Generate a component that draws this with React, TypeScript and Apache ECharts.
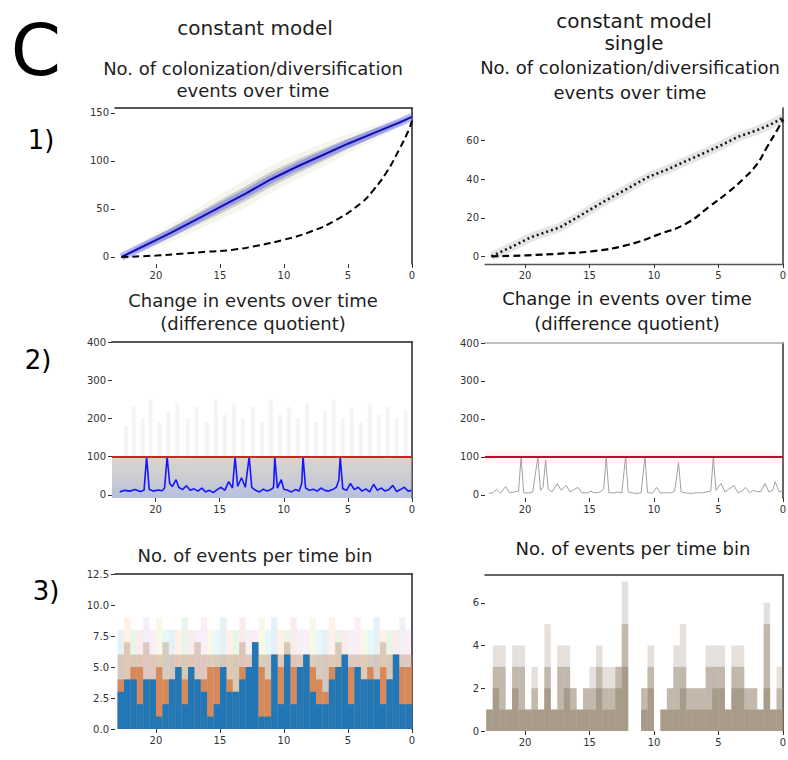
import React, { useEffect, useRef } from "react";
import * as echarts from "echarts";

const FONT = "DejaVu Sans";
const X_TICKS = [0, 5, 10, 15, 20];

// ---------- Row 1: cumulative number of events ----------
const p1Times = [22.7, 21, 19, 17, 15, 13, 11, 9, 7, 5, 3, 1, 0];
const p1Mean = [0, 11, 24, 38, 52, 66, 81, 94, 106, 118, 129, 140, 146];
const p1Spread = [1, 5, 8, 10, 12, 13, 13, 12, 11, 9, 7, 4, 2];
const p1ExpTimes = [22.7, 20, 18, 16, 14, 12, 10, 8, 6, 4, 3, 2, 1, 0.3, 0];
const p1Expected = [0, 1.5, 3.5, 5.5, 7.5, 12, 18, 26, 38, 56, 70, 88, 112, 131, 142];

const p1rTimes = [22.6, 21, 19.5, 17.3, 15.5, 14, 12.1, 10.5, 9, 7, 5, 3.5, 1.8, 0.8, 0];
const p1rSingle = [0, 5, 10, 15, 22, 28, 35, 41, 45, 51, 57, 62, 66, 69, 72];
const p1rExpTimes = [22.6, 19.9, 17, 14.7, 12, 9.5, 7.5, 5.7, 4.3, 3.1, 2, 1.3, 0.5, 0];
const p1rExpected = [0, 0.5, 1.5, 2.7, 6, 11.7, 17, 25.8, 33, 40, 48, 56, 65, 71];

// ---------- Row 2: difference quotient ----------
const p2Threshold = 100;
const p2BandPairs = [[23.4, 96], [22, 97], [20, 98], [18, 96], [16, 97], [14, 98], [12, 97], [10, 98], [8, 96], [6, 97], [4, 98], [2, 96], [0, 97]];
const p2GhostSpikes = [[22.3, 180], [21.7, 230], [21.0, 200], [20.4, 250], [19.7, 190], [19.0, 220], [18.3, 240], [17.5, 200], [16.8, 230], [16.0, 190], [15.3, 250], [14.6, 210], [13.9, 240], [13.2, 200], [12.4, 230], [11.7, 190], [11.0, 250], [10.3, 210], [9.6, 230], [8.9, 200], [8.2, 240], [7.5, 190], [6.8, 220], [6.1, 250], [5.4, 200], [4.7, 230], [4.0, 190], [3.3, 240], [2.6, 210], [1.9, 230], [1.2, 200], [0.5, 220]];
const p2BluePairs = [[22.8, 8], [22.4, 12], [22.0, 10], [21.6, 14], [21.2, 9], [20.9, 12], [20.7, 100], [20.5, 15], [20.2, 10], [19.8, 13], [19.5, 11], [19.3, 18], [19.1, 100], [18.9, 30], [18.7, 22], [18.4, 40], [18.2, 20], [17.9, 14], [17.6, 24], [17.3, 12], [17.0, 16], [16.7, 10], [16.4, 18], [16.1, 8], [15.8, 12], [15.5, 6], [15.2, 14], [14.9, 20], [14.6, 12], [14.3, 35], [14.0, 18], [13.8, 100], [13.6, 22], [13.3, 45], [13.0, 20], [12.7, 100], [12.5, 20], [12.2, 12], [11.9, 8], [11.6, 15], [11.3, 10], [11.0, 14], [10.8, 20], [10.7, 100], [10.5, 18], [10.2, 40], [10.0, 15], [9.7, 12], [9.4, 8], [9.1, 14], [8.8, 10], [8.6, 30], [8.5, 100], [8.3, 18], [8.0, 12], [7.7, 15], [7.4, 10], [7.1, 18], [6.8, 12], [6.5, 10], [6.2, 14], [5.9, 20], [5.7, 40], [5.6, 100], [5.4, 16], [5.1, 12], [4.8, 30], [4.5, 14], [4.2, 20], [3.9, 10], [3.6, 16], [3.3, 8], [3.0, 28], [2.7, 12], [2.4, 18], [2.1, 10], [1.8, 14], [1.5, 25], [1.2, 9], [0.9, 14], [0.6, 20], [0.3, 10], [0.05, 12]];
const p2rGrayPairs = [[22.8, 4], [22.5, 6], [22.2, 15], [21.9, 5], [21.5, 22], [21.2, 6], [20.8, 8], [20.5, 10], [20.3, 100], [20.1, 6], [19.7, 5], [19.4, 8], [19.0, 100], [18.8, 12], [18.6, 20], [18.4, 92], [18.2, 15], [17.9, 8], [17.5, 30], [17.2, 12], [16.8, 25], [16.5, 8], [16.2, 14], [15.9, 20], [15.6, 6], [15.2, 5], [14.9, 10], [14.6, 5], [14.2, 8], [13.9, 15], [13.7, 100], [13.5, 6], [13.1, 5], [12.8, 8], [12.5, 5], [12.2, 100], [12.0, 8], [11.6, 5], [11.3, 4], [11.0, 6], [10.7, 100], [10.5, 6], [10.1, 5], [9.8, 20], [9.5, 5], [9.1, 6], [8.7, 5], [8.4, 10], [8.1, 85], [7.9, 8], [7.5, 5], [7.1, 4], [6.7, 6], [6.3, 5], [5.9, 8], [5.6, 10], [5.4, 100], [5.2, 12], [4.8, 30], [4.5, 8], [4.2, 15], [3.8, 25], [3.5, 6], [3.2, 10], [2.9, 20], [2.6, 6], [2.3, 12], [2.0, 8], [1.7, 10], [1.4, 30], [1.1, 8], [0.8, 12], [0.6, 35], [0.3, 8], [0.05, 10]];

// ---------- Row 3: events per time bin ----------
const binWidth = 0.5;
const binStarts = [23, 22.5, 22, 21.5, 21, 20.5, 20, 19.5, 19, 18.5, 18, 17.5, 17, 16.5, 16, 15.5, 15, 14.5, 14, 13.5, 13, 12.5, 12, 11.5, 11, 10.5, 10, 9.5, 9, 8.5, 8, 7.5, 7, 6.5, 6, 5.5, 5, 4.5, 4, 3.5, 3, 2.5, 2, 1.5, 1, 0.5];
const p3Blue = [3, 4, 4, 2, 4, 4, 1, 2, 4, 5, 2, 5, 4, 3, 1, 2, 5, 3, 3, 4, 5, 7, 1, 1, 6, 2, 6, 2, 5, 6, 3, 2, 2, 4, 5, 6, 2, 5, 4, 4, 4, 2, 4, 6, 2, 2];
const p3Orange = [4, 4, 5, 5, 4, 4, 5, 4, 4, 5, 4, 5, 4, 4, 5, 5, 5, 4, 3, 5, 5, 7, 5, 4, 6, 5, 6, 5, 5, 6, 5, 4, 3, 5, 5, 6, 5, 5, 4, 5, 4, 5, 4, 6, 5, 5];
const p3Band = [6, 7, 6, 6, 7, 6, 6, 7, 6, 6, 6, 6, 7, 6, 6, 6, 6, 6, 6, 7, 6, 7, 6, 6, 6, 6, 7, 6, 6, 6, 6, 6, 6, 6, 7, 6, 6, 6, 6, 6, 6, 7, 6, 6, 6, 6];
const p3Faint = [8, 9, 8, 8, 9, 8, 9, 8, 8, 8, 9, 8, 8, 9, 8, 8, 9, 8, 8, 9, 8, 8, 9, 8, 9, 8, 8, 9, 8, 8, 9, 8, 8, 9, 8, 8, 8, 9, 8, 8, 9, 8, 8, 8, 9, 8];
const p3rLow = [1, 2, 1, 1, 2, 1, 1, 1, 1, 2, 1, 1, 2, 1, 1, 1, 1, 2, 1, 1, 2, 3, 0, 0, 1, 2, 0, 1, 1, 1, 2, 1, 1, 1, 1, 2, 2, 1, 2, 2, 1, 1, 1, 2, 1, 1];
const p3rMid = [1, 3, 3, 1, 3, 3, 1, 2, 1, 3, 1, 3, 3, 2, 1, 2, 2, 3, 2, 2, 3, 5, 0, 0, 2, 3, 0, 1, 2, 3, 3, 2, 2, 2, 3, 3, 3, 1, 3, 3, 2, 2, 1, 5, 1, 2];
const p3rTop = [1, 4, 4, 1, 4, 4, 1, 3, 1, 5, 1, 4, 4, 2, 1, 2, 3, 4, 3, 3, 3, 7, 0, 0, 2, 4, 0, 1, 2, 4, 5, 2, 2, 2, 4, 4, 4, 1, 4, 4, 2, 2, 1, 6, 1, 3];
const pastel = ["rgba(31,119,180,0.11)", "rgba(255,127,14,0.11)", "rgba(44,160,44,0.10)", "rgba(214,39,40,0.09)", "rgba(148,103,189,0.10)", "rgba(227,119,194,0.12)", "rgba(188,189,34,0.11)", "rgba(23,190,207,0.10)"];

const zip = (a: number[], b: number[]) => a.map((v, i) => [v, b[i]]);

type Spines = { top?: string; right?: string; bottom?: string };

function axesFor(p: number, xMax: number, yMin: number, yMax: number, yTicks: number[], sp: Spines, yFmt?: (v: number) => string) {
  const xa = [
    {
      type: "value", gridIndex: p, inverse: true, min: 0, max: xMax, position: "bottom",
      axisLine: { show: !!sp.bottom, onZero: false, lineStyle: { color: sp.bottom || "#000", width: 1.3 } },
      axisTick: { show: true, customValues: X_TICKS, length: 4, lineStyle: { color: "#333", width: 1 } },
      axisLabel: { show: true, customValues: X_TICKS, fontSize: 10, color: "#333", margin: 6, fontFamily: FONT },
      splitLine: { show: false },
    },
    {
      type: "value", gridIndex: p, inverse: true, min: 0, max: xMax, position: "top",
      axisLine: { show: !!sp.top, onZero: false, lineStyle: { color: sp.top || "#000", width: 1.5 } },
      axisTick: { show: false }, axisLabel: { show: false }, splitLine: { show: false },
    },
  ];
  const ya = [
    {
      type: "value", gridIndex: p, min: yMin, max: yMax, position: "left",
      axisLine: { show: false, onZero: false },
      axisTick: { show: true, customValues: yTicks, length: 4, lineStyle: { color: "#333", width: 1 } },
      axisLabel: { show: true, customValues: yTicks, fontSize: 10, color: "#333", margin: 6, fontFamily: FONT, formatter: yFmt || ((v: number) => String(v)) },
      splitLine: { show: false },
    },
    {
      type: "value", gridIndex: p, min: yMin, max: yMax, position: "right",
      axisLine: { show: !!sp.right, onZero: false, lineStyle: { color: sp.right || "#000", width: 1.5 } },
      axisTick: { show: false }, axisLabel: { show: false }, splitLine: { show: false },
    },
  ];
  return { xa, ya };
}

function binBars(p: number, tops: number[], color: string | ((i: number) => string), z: number) {
  return {
    type: "custom", xAxisIndex: 2 * p, yAxisIndex: 2 * p, z, silent: true,
    data: binStarts.map((s, i) => [s, s - binWidth, tops[i]]),
    encode: { x: [0, 1], y: 2 },
    renderItem: (params: any, api: any) => {
      const a = api.coord([api.value(0), api.value(2)]);
      const b = api.coord([api.value(1), 0]);
      const fill = typeof color === "function" ? color(params.dataIndex) : color;
      return {
        type: "rect",
        shape: { x: Math.min(a[0], b[0]), y: a[1], width: Math.abs(b[0] - a[0]), height: b[1] - a[1] },
        style: { fill },
      };
    },
  };
}

// band between mean - k*spread and mean + k*spread, one quad per segment
function bandSeries(p: number, k: number, fill: string, z: number) {
  const data = p1Times.slice(0, -1).map((t, i) => [
    t, p1Mean[i] - k * p1Spread[i], p1Mean[i] + k * p1Spread[i],
    p1Times[i + 1], p1Mean[i + 1] - k * p1Spread[i + 1], p1Mean[i + 1] + k * p1Spread[i + 1],
  ]);
  return {
    type: "custom", xAxisIndex: 2 * p, yAxisIndex: 2 * p, z, silent: true, data,
    encode: { x: [0, 3], y: [1, 2, 4, 5] },
    renderItem: (params: any, api: any) => {
      const pts = [
        api.coord([api.value(0), api.value(1)]),
        api.coord([api.value(3), api.value(4)]),
        api.coord([api.value(3), api.value(5)]),
        api.coord([api.value(0), api.value(2)]),
      ];
      return { type: "polygon", shape: { points: pts }, style: { fill } };
    },
  };
}

function buildOption() {
  const panels = [
    { grid: { left: 115, top: 108, width: 297, height: 156 }, ax: axesFor(0, 23.2, -7.3, 155.2, [0, 50, 100, 150], { top: "#222", right: "#222" }) },
    { grid: { left: 485, top: 108, width: 298, height: 156 }, ax: axesFor(1, 23.1, -4, 77, [0, 20, 40, 60], { right: "#333", bottom: "#555" }) },
    { grid: { left: 112, top: 342, width: 300, height: 156 }, ax: axesFor(2, 23.4, -8, 400, [0, 100, 200, 300, 400], { top: "#222", right: "#222" }) },
    { grid: { left: 485, top: 343, width: 298, height: 155 }, ax: axesFor(3, 23.1, -8, 400, [0, 100, 200, 300, 400], { top: "#aaa", right: "#333" }) },
    { grid: { left: 115, top: 574, width: 297, height: 155 }, ax: axesFor(4, 23.2, 0, 12.5, [0, 2.5, 5, 7.5, 10, 12.5], { top: "#222", right: "#222" }, (v: number) => v.toFixed(1)) },
    { grid: { left: 485, top: 575, width: 298, height: 156 }, ax: axesFor(5, 23.1, 0, 7.3, [0, 2, 4, 6], { top: "#333", right: "#333" }) },
  ];
  const grid = panels.map((p) => ({ ...p.grid, containLabel: false, outerBoundsMode: "none" }));
  const xAxis = panels.flatMap((p) => p.ax.xa);
  const yAxis = panels.flatMap((p) => p.ax.ya);
  const ax = (p: number) => ({ xAxisIndex: 2 * p, yAxisIndex: 2 * p });
  const noSym = { symbol: "none", showSymbol: false, silent: true };

  const series: any[] = [
    // ---- panel 0 ----
    bandSeries(0, 1.1, "rgba(205,205,170,0.2)", 1),
    bandSeries(0, 0.6, "rgba(120,120,125,0.32)", 2),
    { type: "line", ...ax(0), ...noSym, z: 3, data: zip(p1Times, p1Mean), lineStyle: { color: "rgba(100,100,255,0.45)", width: 8 } },
    { type: "line", ...ax(0), ...noSym, z: 4, data: zip(p1Times, p1Mean), lineStyle: { color: "#1010b0", width: 2 } },
    { type: "line", ...ax(0), ...noSym, z: 5, smooth: true, data: zip(p1ExpTimes, p1Expected), lineStyle: { color: "#000", width: 2, type: [7, 4] } },
    // ---- panel 1 ----
    { type: "line", ...ax(1), ...noSym, data: zip(p1rTimes, p1rSingle), lineStyle: { color: "rgba(0,0,0,0.1)", width: 9 } },
    { type: "line", ...ax(1), ...noSym, data: zip(p1rTimes, p1rSingle), lineStyle: { color: "#111", width: 2.5, type: [2, 3] } },
    { type: "line", ...ax(1), ...noSym, smooth: true, data: zip(p1rExpTimes, p1rExpected), lineStyle: { color: "#000", width: 2.2, type: [7, 4] } },
    // ---- panel 2 ----
    {
      type: "line", ...ax(2), ...noSym, data: p2BandPairs, lineStyle: { opacity: 0 },
      areaStyle: {
        origin: "start",
        color: new echarts.graphic.LinearGradient(0, 0, 0, 1, [
          { offset: 0, color: "rgba(175,180,160,0.75)" },
          { offset: 0.5, color: "rgba(165,165,175,0.8)" },
          { offset: 1, color: "rgba(130,150,205,0.85)" },
        ]),
      },
    },
    {
      type: "custom", ...ax(2), silent: true, data: p2GhostSpikes,
      renderItem: (params: any, api: any) => {
        const a = api.coord([api.value(0), p2Threshold]);
        const b = api.coord([api.value(0), api.value(1)]);
        return { type: "line", shape: { x1: a[0], y1: a[1], x2: b[0], y2: b[1] }, style: { stroke: "rgba(200,200,200,0.2)", lineWidth: 4 } };
      },
    },
    {
      type: "line", ...ax(2), ...noSym, data: p2BluePairs, lineStyle: { color: "#1515ff", width: 1.6 },
      markLine: { silent: true, symbol: "none", label: { show: false }, data: [{ yAxis: p2Threshold, lineStyle: { color: "#d42020", width: 2, type: "solid" } }] },
    },
    // ---- panel 3 ----
    {
      type: "line", ...ax(3), ...noSym, data: p2rGrayPairs, lineStyle: { color: "#a0a0a0", width: 1 },
      markLine: {
        silent: true, symbol: "none", label: { show: false },
        data: [
          { yAxis: p2Threshold, lineStyle: { color: "rgba(255,140,150,0.1)", width: 12, type: "solid" } },
          { yAxis: p2Threshold, lineStyle: { color: "#b8102a", width: 2.2, type: "solid" } },
        ],
      },
    },
    // ---- panel 4 ----
    binBars(4, p3Faint, (i: number) => pastel[i % pastel.length], 1),
    binBars(4, p3Band, "rgba(190,150,120,0.45)", 2),
    binBars(4, p3Orange, "rgba(214,130,80,0.9)", 3),
    binBars(4, p3Blue, "#2277b6", 4),
    // ---- panel 5 ----
    binBars(5, p3rTop, "rgba(160,145,125,0.28)", 1),
    binBars(5, p3rMid, "rgba(160,145,125,0.5)", 2),
    binBars(5, p3rLow, "rgba(160,145,125,0.75)", 3),
  ];

  const txt = (text: string, x: number, y: number, size: number, color = "#1a1a1a") => ({
    type: "text", x, y, z: 100, silent: true,
    style: { text, fill: color, font: `${size}px '${FONT}'`, textAlign: "center", textVerticalAlign: "middle", align: "center", verticalAlign: "middle" },
  });

  const graphic = [
    txt("C", 36, 50, 72, "#000"),
    txt("1)", 41, 140, 26, "#000"),
    txt("2)", 38, 360, 26, "#000"),
    txt("3)", 46, 591, 26, "#000"),
    txt("constant model", 255, 28, 20, "#222"),
    txt("No. of colonization/diversification", 253, 68, 18, "#222"),
    txt("events over time", 253, 90, 18, "#222"),
    txt("Change in events over time", 253, 300, 18, "#222"),
    txt("(difference quotient)", 253, 323, 18, "#222"),
    txt("No. of events per time bin", 255, 555, 18, "#222"),
    txt("constant model", 634, 21, 20),
    txt("single", 634, 43, 20),
    txt("No. of colonization/diversification", 630, 67, 18),
    txt("events over time", 630, 92, 18),
    txt("Change in events over time", 627, 298, 18),
    txt("(difference quotient)", 627, 323, 18),
    txt("No. of events per time bin", 633, 548, 18),
  ];

  return { animation: false, backgroundColor: "#fff", grid, xAxis, yAxis, series, graphic };
}

export default function App() {
  const ref = useRef<HTMLDivElement>(null);
  useEffect(() => {
    const chart = echarts.init(ref.current!, null, { renderer: "svg" });
    chart.setOption(buildOption() as any);
    return () => chart.dispose();
  }, []);
  return <div ref={ref} style={{ position: "absolute", left: 0, top: 0, width: 788, height: 760, background: "#fff" }} />;
}
